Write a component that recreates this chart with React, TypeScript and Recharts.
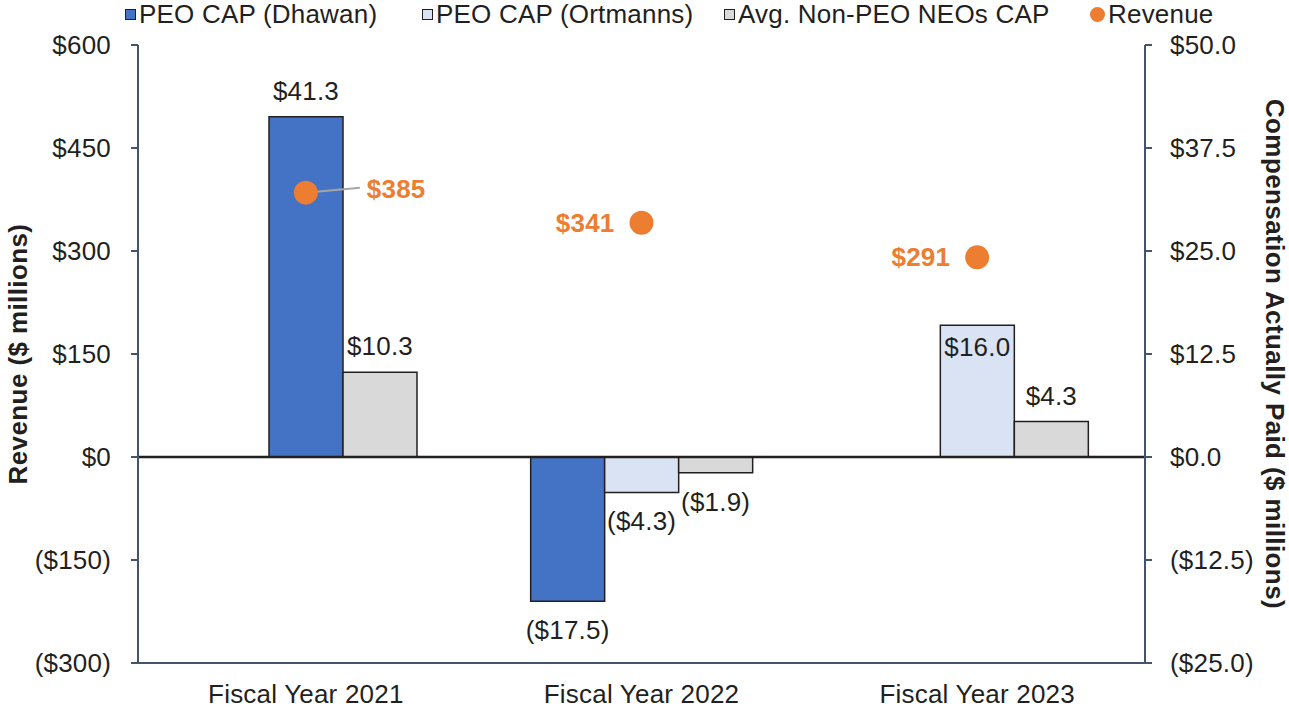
import React from 'react'
import {
    ComposedChart, Bar, Scatter, XAxis, YAxis, Cell, Legend, ReferenceLine, Label
} from 'recharts';

const years = ['Fiscal Year 2021', 'Fiscal Year 2022', 'Fiscal Year 2023'];
// first slot only holds Dhawan's FY2022 bar, second slot holds the sitting PEO
const peoFirstSlot = [null, -17.5, null];
const peoCap = [41.3, -4.3, 16.0];
const peoHolder = ['Dhawan', 'Ortmanns', 'Ortmanns'];
const avgNeoCap = [10.3, -1.9, 4.3];
const revenue = [385, 341, 291];

const revTicks = [-300, -150, 0, 150, 300, 450, 600];
const capTicks = [-25, -12.5, 0, 12.5, 25, 37.5, 50];

const legendItems = [
    { name: 'PEO CAP (Dhawan)', color: '#4472C4', kind: 'square' },
    { name: 'PEO CAP (Ortmanns)', color: '#DAE3F3', kind: 'square' },
    { name: 'Avg. Non-PEO NEOs CAP', color: '#D9D9D9', kind: 'square' },
    { name: 'Revenue', color: '#ED7D31', kind: 'dot' },
];

const data = years.map((year, i) => ({
    year,
    first: peoFirstSlot[i],
    peo: peoCap[i],
    holder: peoHolder[i],
    avg: avgNeoCap[i],
    revenue: revenue[i],
}));

const FONT = '"Liberation Sans", Arial, sans-serif';
const FS = 26;
const LS = 0.2;
const INK = '#231f20';
const AXIS = '#44546A';
const ORANGE = '#ED7D31';

const money = (v: number) => (v < 0 ? `($${Math.abs(v).toFixed(1)})` : `$${v.toFixed(1)}`);

function barLabel(inside: number[]) {
    return (props: any) => {
        const { x, y, width, height, value, index } = props;
        if (value == null) return null;
        const top = Math.min(y, y + height);
        const bottom = Math.max(y, y + height);
        let cy;
        if (inside.includes(index)) cy = top + 22;
        else if (value < 0) cy = bottom + 29;
        else cy = top - 26;
        return (
            <text x={x + width / 2} y={cy} textAnchor="middle" dominantBaseline="central"
                fontSize={FS} letterSpacing={LS} fill={INK} fontFamily={FONT}>
                {money(value)}
            </text>
        );
    };
}

function RevenueDot(props: any) {
    const { cx, cy, index, payload } = props;
    const txt = `$${payload.revenue}`;
    const right = index === 0;
    return (
        <g>
            {right && <line x1={cx} y1={cy} x2={cx + 54} y2={cy - 5} stroke="#A6A6A6" strokeWidth={2} />}
            <circle cx={cx} cy={cy} r={12} fill={ORANGE} />
            <text x={right ? cx + 61 : cx - 27} y={cy - (right ? 4 : 0)} textAnchor={right ? 'start' : 'end'}
                dominantBaseline="central" fontSize={FS} letterSpacing={LS} fontWeight="bold" fill={ORANGE} fontFamily={FONT}>
                {txt}
            </text>
        </g>
    );
}

const legendLeft = [125, 422, 724, 1090];

function LegendRow() {
    return (
        <div style={{ position: 'relative', height: 28, fontFamily: FONT, fontSize: FS, letterSpacing: LS, color: INK }}>
            {legendItems.map((it, i) => (
                <div key={it.name} style={{ position: 'absolute', left: legendLeft[i], top: 0, height: 28, display: 'flex', alignItems: 'center', whiteSpace: 'nowrap' }}>
                    {it.kind === 'square'
                        ? <span style={{ width: 9, height: 9, background: it.color, border: `1.5px solid ${INK}`, marginRight: 3 }} />
                        : <span style={{ width: 15, height: 15, borderRadius: '50%', background: it.color, marginRight: 3 }} />}
                    <span>{it.name}</span>
                </div>
            ))}
        </div>
    );
}

function AxisTitle({ text, cx, angle }: { text: string, cx: number, angle: number }) {
    return (props: any) => {
        const vb = props.viewBox;
        const cy = vb.y + vb.height / 2;
        const x = vb.x + cx;
        return (
            <text x={x} y={cy} transform={`rotate(${angle}, ${x}, ${cy})`} textAnchor="middle"
                dominantBaseline="central" fontSize={FS} letterSpacing={0.4} fontWeight="bold" fill={INK} fontFamily={FONT}>
                {text}
            </text>
        );
    };
}

const tickStyle = { fill: INK, fontSize: FS, fontFamily: FONT, letterSpacing: LS };

function App() {
    return (
        <div style={{ position: 'absolute', left: 0, top: 0, width: 1289, height: 708, background: '#fff' }}>
            <ComposedChart width={1289} height={708} data={data} barSize={74} barGap={0}
                margin={{ top: 45, right: 0, bottom: 0, left: 0 }}>
                <XAxis dataKey="year" height={45} tickLine={false} tickSize={0} tickMargin={22}
                    axisLine={{ stroke: AXIS, strokeWidth: 2 }} tick={tickStyle} />
                <YAxis yAxisId="rev" orientation="left" width={138} domain={[-300, 600]} ticks={revTicks}
                    tickSize={7} tickMargin={20} tick={tickStyle}
                    axisLine={{ stroke: AXIS, strokeWidth: 2 }} tickLine={{ stroke: AXIS, strokeWidth: 2 }}
                    tickFormatter={(v: number) => (v < 0 ? `($${-v})` : `$${v}`)}>
                    <Label content={AxisTitle({ text: 'Revenue ($ millions)', cx: 18, angle: -90 })} />
                </YAxis>
                <YAxis yAxisId="cap" orientation="right" width={144} domain={[-25, 50]} ticks={capTicks}
                    tickSize={7} tickMargin={18} tick={tickStyle}
                    axisLine={{ stroke: AXIS, strokeWidth: 2 }} tickLine={{ stroke: AXIS, strokeWidth: 2 }}
                    tickFormatter={(v: number) => money(v)}>
                    <Label content={AxisTitle({ text: 'Compensation Actually Paid ($ millions)', cx: 130, angle: 90 })} />
                </YAxis>
                <Legend verticalAlign="middle" layout="horizontal" wrapperStyle={{ top: 0, left: 0, width: 1289 }}
                    content={() => <LegendRow />} />
                <Bar yAxisId="cap" dataKey="first" fill="#4472C4" stroke={INK} strokeWidth={1.5}
                    isAnimationActive={false} label={barLabel([])} />
                <Bar yAxisId="cap" dataKey="peo" stroke={INK} strokeWidth={1.5}
                    isAnimationActive={false} label={barLabel([2])}>
                    {data.map((d) => (
                        <Cell key={d.year} fill={d.holder === 'Dhawan' ? '#4472C4' : '#DAE3F3'} />
                    ))}
                </Bar>
                <Bar yAxisId="cap" dataKey="avg" fill="#D9D9D9" stroke={INK} strokeWidth={1.5}
                    isAnimationActive={false} label={barLabel([])} />
                <ReferenceLine yAxisId="cap" y={0} stroke={INK} strokeWidth={2.5} />
                <Scatter yAxisId="rev" dataKey="revenue" isAnimationActive={false} shape={<RevenueDot />} />
            </ComposedChart>
        </div>
    )
}

export default App
